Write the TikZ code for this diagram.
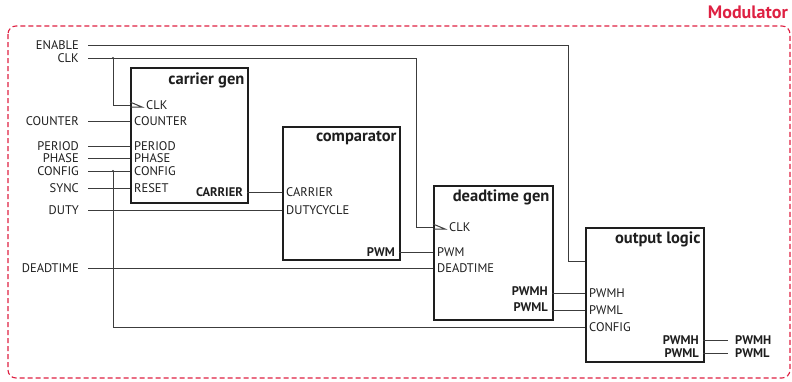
\documentclass[tikz,border=0pt]{standalone}
\usepackage{fontspec}
\setmainfont{PT Sans}
\usetikzlibrary{calc}
\definecolor{modred}{RGB}{222,32,66}
\definecolor{wirec}{RGB}{60,60,60}
\definecolor{boxc}{RGB}{30,30,30}
\tikzset{
  wire/.style={draw=wirec, line width=1pt},
  block/.style={draw=boxc, line width=1.6pt, anchor=north west, inner sep=0pt},
  blocktitle/.style={anchor=north east, font=\fontsize{16.5}{18}\selectfont\bfseries, inner sep=0pt, text=boxc},
  sig/.style={font=\fontsize{12.5}{14}\selectfont, text=boxc, inner sep=0pt, text height=8.6pt, text depth=0pt},
  inlabel/.style={sig, anchor=east},
  portin/.style={sig, anchor=west},
  portout/.style={sig, anchor=east, font=\fontsize{12.5}{14}\selectfont\bfseries},
  outlabel/.style={sig, anchor=west, font=\fontsize{12.5}{14}\selectfont\bfseries},
  jdot/.style={circle, fill=wirec, inner sep=0pt, minimum size=2.4pt},
}
\newcommand{\clksym}[1]{\draw[wire] ($(#1)+(0,-3)$) -- ($(#1)+(12,2)$) -- ($(#1)+(0,2)$);}
\begin{document}
\begin{tikzpicture}[x=1pt, y=-1pt]
\useasboundingbox (0,0) rectangle (792,381);

% enclosing module frame
\draw[modred, line width=1.1pt, dash pattern=on 5pt off 3pt, rounded corners=8pt] (8,26) rectangle (790,378);
\node[anchor=base east, inner sep=0pt, text=modred, font=\fontsize{18}{20}\selectfont\bfseries] (modname) at (788,18) {Modulator};

% blocks
\node[block, minimum width=117pt, minimum height=135pt] (cg) at (130,67) {};
\node[blocktitle] at ($(cg.north east)+(-4,6)$) {carrier gen};
\node[block, minimum width=117pt, minimum height=133pt] (cp) at (282,126) {};
\node[blocktitle] at ($(cp.north east)+(-4,5)$) {comparator};
\node[block, minimum width=119pt, minimum height=134pt] (dt) at (433,185) {};
\node[blocktitle] at ($(dt.north east)+(-4,5)$) {deadtime gen};
\node[block, minimum width=118pt, minimum height=134pt] (ol) at (585,227) {};
\node[blocktitle] at ($(ol.north east)+(-4,5)$) {output logic};

% port positions
\coordinate (cg-clk) at (130,105);
\coordinate (cg-counter) at (130,121);
\coordinate (cg-period) at (130,146);
\coordinate (cg-phase) at (130,158);
\coordinate (cg-config) at (130,171);
\coordinate (cg-reset) at (130,188);
\coordinate (cg-carrier) at (247,192);
\coordinate (cp-carrier) at (282,192);
\coordinate (cp-duty) at (282,210);
\coordinate (cp-pwm) at (399,252);
\coordinate (dt-clk) at (433,227);
\coordinate (dt-pwm) at (433,252);
\coordinate (dt-deadtime) at (433,268);
\coordinate (dt-pwmh) at (552,293);
\coordinate (dt-pwml) at (552,310);
\coordinate (ol-enable) at (585,261);
\coordinate (ol-pwmh) at (585,293);
\coordinate (ol-pwml) at (585,310);
\coordinate (ol-config) at (585,327);
\coordinate (ol-outh) at (703,340);
\coordinate (ol-outl) at (703,353);

% port labels inside blocks
\node[portin] at ($(cg-clk)+(16,0)$) {CLK};
\node[portin] at ($(cg-counter)+(4,0)$) {COUNTER};
\node[portin] at ($(cg-period)+(4,0)$) {PERIOD};
\node[portin] at ($(cg-phase)+(4,0)$) {PHASE};
\node[portin] at ($(cg-config)+(4,0)$) {CONFIG};
\node[portin] at ($(cg-reset)+(4,0)$) {RESET};
\node[portout] at ($(cg-carrier)+(-4,0)$) {CARRIER};
\node[portin] at ($(cp-carrier)+(4,0)$) {CARRIER};
\node[portin] at ($(cp-duty)+(4,0)$) {DUTYCYCLE};
\node[portout] at ($(cp-pwm)+(-4,0)$) {PWM};
\node[portin] at ($(dt-clk)+(16,0)$) {CLK};
\node[portin] at ($(dt-pwm)+(4,0)$) {PWM};
\node[portin] at ($(dt-deadtime)+(4,0)$) {DEADTIME};
\node[portout] at ($(dt-pwmh)+(-4,-2)$) {PWMH};
\node[portout] at ($(dt-pwml)+(-4,-3)$) {PWML};
\node[portin] at ($(ol-pwmh)+(4,0)$) {PWMH};
\node[portin] at ($(ol-pwml)+(4,0)$) {PWML};
\node[portin] at ($(ol-config)+(4,0)$) {CONFIG};
\node[portout] at ($(ol-outh)+(-4,0)$) {PWMH};
\node[portout] at ($(ol-outl)+(-4,0)$) {PWML};

% external inputs
\node[inlabel] (i-enable) at (79,45) {ENABLE};
\node[inlabel] (i-clk) at (79,58) {CLK};
\node[inlabel] (i-counter) at (79,121) {COUNTER};
\node[inlabel] (i-period) at (79,146) {PERIOD};
\node[inlabel] (i-phase) at (79,158) {PHASE};
\node[inlabel] (i-config) at (79,171) {CONFIG};
\node[inlabel] (i-sync) at (79,188) {SYNC};
\node[inlabel] (i-duty) at (79,210) {DUTY};
\node[inlabel] (i-deadtime) at (79,268) {DEADTIME};

% external outputs
\node[outlabel] (o-pwmh) at (735,340) {PWMH};
\node[outlabel] (o-pwml) at (735,353) {PWML};

% routing points
\coordinate (en-turn) at (568,45);
\coordinate (clk-turn) at (416,58);
\coordinate (clk-j) at (113,58);
\coordinate (cfg-j) at (113,171);

% connectors
\draw[wire] ($(i-enable.east)+(9,0)$) -- (en-turn) |- (ol-enable);
\draw[wire] ($(i-clk.east)+(9,0)$) -- (clk-turn) |- (dt-clk);
\draw[wire] (clk-j) |- (cg-clk);
\draw[wire] ($(i-counter.east)+(9,0)$) -- (cg-counter);
\draw[wire] ($(i-period.east)+(9,0)$) -- (cg-period);
\draw[wire] ($(i-phase.east)+(9,0)$) -- (cg-phase);
\draw[wire] ($(i-config.east)+(9,0)$) -- (cg-config);
\draw[wire] (cfg-j) |- (ol-config);
\draw[wire] ($(i-sync.east)+(9,0)$) -- (cg-reset);
\draw[wire] ($(i-duty.east)+(9,0)$) -- (cp-duty);
\draw[wire] ($(i-deadtime.east)+(9,0)$) -- (dt-deadtime);
\draw[wire] (cg-carrier) -- (cp-carrier);
\draw[wire] (cp-pwm) -- (dt-pwm);
\draw[wire] (dt-pwmh) -- (ol-pwmh);
\draw[wire] (dt-pwml) -- (ol-pwml);
\draw[wire] (ol-outh) -- ($(o-pwmh.west)+(-7,0)$);
\draw[wire] (ol-outl) -- ($(o-pwml.west)+(-7,0)$);

% clock markers and junctions
\clksym{cg-clk}
\clksym{dt-clk}
\node[jdot] at (clk-j) {};
\node[jdot] at (cfg-j) {};
\end{tikzpicture}
\end{document}
